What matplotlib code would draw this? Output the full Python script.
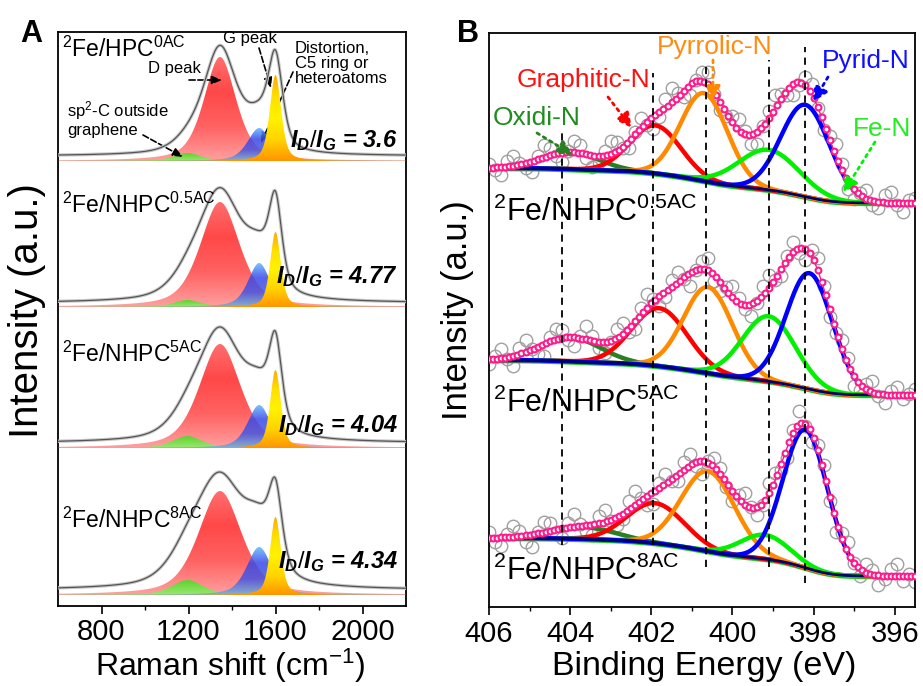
import numpy as np
import matplotlib
matplotlib.use("Agg")
import matplotlib.pyplot as plt
from matplotlib.colors import LinearSegmentedColormap

plt.rcParams['font.family'] = ['Liberation Sans', 'DejaVu Sans']
plt.rcParams['mathtext.fontset'] = 'custom'
plt.rcParams['mathtext.rm'] = 'Liberation Sans'
plt.rcParams['mathtext.it'] = 'Liberation Sans:italic:bold'
plt.rcParams['mathtext.bf'] = 'Liberation Sans:bold'

W, H = 923, 686

# ---------------- DATA: Raman (panel A) ----------------
raman_samples = ['0AC', '0.5AC', '5AC', '8AC']
raman_prefix = ['HPC', 'NHPC', 'NHPC', 'NHPC']
raman_ratio = ['3.6', '4.77', '4.04', '4.34']
# component order: sp2-C (green), D (red), distortion (blue), G (yellow)
raman_centers = [1195, 1345, 1525, 1600]
raman_fit_heights = [[8, 104, 33, 86], [7, 105, 44, 75], [12, 104, 43, 78], [15, 104, 48, 78]]
raman_fit_fwhm = [[150, 175, 125, 62], [150, 215, 120, 58], [160, 225, 125, 58], [170, 235, 135, 58]]
raman_raw_heights = [[10, 106, 30, 86], [14, 108, 36, 82], [16, 108, 38, 80], [22, 106, 45, 72]]
raman_raw_fwhm = [[160, 180, 140, 78], [200, 235, 150, 70], [200, 240, 150, 70], [220, 260, 160, 72]]
# vertical offsets of each spectrum (image rows of base line)
raman_fill_base = [161, 307, 448, 595]
raman_raw_base = [156, 303, 443, 590]

# ---------------- DATA: XPS N1s (panel B) ----------------
xps_samples = ['0.5AC', '5AC', '8AC']
xps_names = ['Oxidi-N', 'Graphitic-N', 'Pyrrolic-N', 'Fe-N', 'Pyrid-N']
xps_centers = [[404.0, 401.9, 400.7, 399.1, 398.2],
               [404.0, 401.8, 400.6, 399.1, 398.1],
               [403.7, 401.9, 400.6, 399.2, 398.2]]
xps_heights = [[17, 48, 88, 40, 92],
               [24, 58, 86, 65, 116],
               [12, 40, 80, 24, 138]]
xps_sigma = [[0.7, 0.62, 0.58, 0.75, 0.6],
             [0.75, 0.68, 0.6, 0.65, 0.57],
             [0.8, 0.7, 0.66, 0.6, 0.55]]
xps_bg_left = [168, 360, 538]   # image rows
xps_bg_right = [203, 395, 576]
xps_res = [
    [4, -3, -8, 6, 10, 2, -5, -11, 3, 12, 7, -2, -9, 1, 11, 8, -4, -12, -6, 5, 13, 9, -1, -7, 2, 10, -3, -13, -5, 8,
     14, 4, -6, -10, 1, 9, 12, -2, -8, -4, 6, 11, 3, -9, -12, 0, 7, 13, 5, -5, -11, -3, 8, 10, -1, -7, 4, 12, 6, -8,
     -10, 2, 9, -4, -6, 7, 11, -2, -9, 3, 5],
    [-5, 3, 9, -2, -10, 6, 12, 1, -7, -12, 4, 10, 8, -3, -9, 2, 13, 5, -6, -11, -1, 9, 11, -4, -8, 6, 14, 3, -10, -5,
     7, 10, -2, -13, 0, 8, 12, -6, -9, 3, 11, 5, -4, -12, -2, 9, 13, -1, -7, 4, 10, -5, -11, 6, 12, 2, -8, -3, 9, 7,
     -10, -6, 5, 11, -2, -9, 4, 8, -4, 1, 6],
    [6, -4, -9, 3, 11, 5, -7, -12, 1, 10, 8, -3, -10, 4, 13, 2, -6, -11, 7, 12, -1, -8, -5, 9, 14, 3, -9, -12, 5, 10,
     -2, -7, 8, 11, -4, -13, 2, 9, 6, -5, -10, 4, 12, 1, -8, -3, 10, 7, -6, -11, 3, 13, -2, -9, 5, 8, -4, -12, 6, 11,
     0, -7, 9, 4, -10, -3, 7, 12, -5, 2, -6]]
xps_dash_pos = [404.2, 401.95, 400.65, 399.1, 398.2]
xps_dash_top = [130, 73, 67, 60, 47]
xps_dash_bot = [545, 545, 567, 567, 583]
xps_sample_label_base = [221, 412, 580]

# ---------------- styles ----------------
xps_colors = ['#2A7F22', '#FF0000', '#FF8A00', '#00F000', '#0000FF']
xps_text_colors = ['#1E8C1E', '#FF1010', '#FF8C10', '#22EE22', '#1010FF']


def fp(px, py):
    return (px, H - py)


def pv(x, c, h, w, eta=0.5):
    u = (x - c) / w
    return h * ((1 - eta) * np.exp(-4 * np.log(2) * u * u) + eta / (1 + 4 * u * u))


def gauss(x, c, h, s):
    return h * np.exp(-(x - c) ** 2 / (2 * s * s))


def grad_fill(ax, x, y0, y1, stops, z, alpha=1.0):
    poly = ax.fill_between(x, y0, y1, facecolor='none', edgecolor='none')
    path = poly.get_paths()[0]
    cmap = LinearSegmentedColormap.from_list('g', stops)
    grad = np.linspace(0, 1, 256).reshape(-1, 1)
    im = ax.imshow(grad, extent=[x.min(), x.max(), y0.min(), y1.max()], origin='lower',
                   aspect='auto', cmap=cmap, zorder=z, alpha=alpha, interpolation='bicubic')
    im.set_clip_path(path, transform=ax.transData)


fig = plt.figure(figsize=(W / 100, H / 100), dpi=100)
axA = fig.add_axes([58 / W, 80 / H, 348 / W, 574 / H])
axB = fig.add_axes([489 / W, 79 / H, 426 / W, 574 / H])

# ---------------- Panel A ----------------
xr = np.linspace(600, 2200, 1601)
fill_stops = [['#9BE870', '#5ED22E'],
              ['#FFA0A0', '#FF6262', '#FF4848', '#FF6E6E'],
              ['#70B4D8', '#4455E2', '#3A48E6', '#62B8FF'],
              ['#FF9400', '#FFD400', '#FFF200', '#FFE000', '#FFAA00']]
fill_order = [1, 0, 2, 3]
fill_alpha = [1.0, 1.0, 0.85, 1.0]
for i in range(4):
    yb = H - raman_fill_base[i]
    comps = [pv(xr, raman_centers[k], raman_fit_heights[i][k], raman_fit_fwhm[i][k]) for k in range(4)]
    for z, k in enumerate(fill_order):
        grad_fill(axA, xr, np.full_like(xr, yb), yb + comps[k], fill_stops[k], 2 + z, fill_alpha[k])
    yg = H - raman_raw_base[i] + sum(pv(xr, raman_centers[k], raman_raw_heights[i][k], raman_raw_fwhm[i][k])
                                     for k in range(4))
    axA.plot(xr, yg, color='#c8c8c8', lw=2.4, zorder=7)
    axA.plot(xr, yg, color='#555555', lw=0.9, zorder=8)

axA.set_xlim(600, 2200)
axA.set_ylim(80, 654)
axA.set_yticks([])
axA.set_xticks([800, 1200, 1600, 2000])
axA.set_xticks([1000, 1400, 1800], minor=True)
axA.tick_params(axis='x', which='major', length=6, width=1.2, labelsize=21, pad=3, direction='out')
axA.tick_params(axis='x', which='minor', length=3, width=1.0, direction='out')
for s in axA.spines.values():
    s.set_linewidth(1.3)

sample_base_A = [57, 213, 362, 528]
ratio_base_A = [147, 283, 432, 568]
for i in range(4):
    fig.text(62 / W, (H - sample_base_A[i]) / H,
             r'$^{\mathrm{2}}$Fe/' + raman_prefix[i] + r'$^{\mathrm{' + raman_samples[i] + '}}$',
             fontsize=16.5, va='baseline', ha='left')
    fig.text(398 / W, (H - ratio_base_A[i]) / H, r'$\mathit{I_D/I_G}$ = ' + raman_ratio[i],
             fontsize=17, fontweight='bold', style='italic', va='baseline', ha='right')

annA = dict(arrowstyle='-|>,head_length=0.6,head_width=0.25', color='black', lw=1.2, linestyle='--',
            shrinkA=0, shrinkB=0)
fig.text(174 / W, (H - 68) / H, 'D peak', fontsize=12, ha='center', va='center')
axA.annotate('', xy=fp(222, 80), xytext=fp(189, 80), xycoords='figure pixels', textcoords='figure pixels',
             arrowprops=annA)
fig.text(250 / W, (H - 39) / H, 'G peak', fontsize=12, ha='center', va='center')
axA.annotate('', xy=fp(271, 88), xytext=fp(259, 48), xycoords='figure pixels', textcoords='figure pixels',
             arrowprops=annA)
fig.text(295 / W, (H - 41) / H, 'Distortion,\nC5 ring or\nheteroatoms', fontsize=12, ha='left', va='top',
         linespacing=1.0)
axA.annotate('', xy=fp(261, 143), xytext=fp(293, 72), xycoords='figure pixels', textcoords='figure pixels',
             arrowprops=annA)
fig.text(67 / W, (H - 99) / H, 'sp$^{\\mathrm{2}}$-C outside\ngraphene', fontsize=12, ha='left', va='top',
         linespacing=1.05)
axA.annotate('', xy=fp(183, 157), xytext=fp(143, 135), xycoords='figure pixels', textcoords='figure pixels',
             arrowprops=annA)

fig.text(27 / W, (H - 311) / H, 'Intensity (a.u.)', fontsize=29, rotation=90, ha='center', va='center')
fig.text(230 / W, (H - 676) / H, 'Raman shift (cm$^{\\mathrm{-1}}$)', fontsize=23, ha='center', va='baseline')
fig.text(20 / W, (H - 42) / H, 'A', fontsize=22, fontweight='bold', ha='left', va='baseline')

# ---------------- Panel B ----------------
xb = np.linspace(406, 395.5, 1051)
for i in range(3):
    peaks = [gauss(xb, xps_centers[i][k], xps_heights[i][k], xps_sigma[i][k]) for k in range(5)]
    total = sum(peaks)
    frac = np.cumsum(total[::-1])[::-1] / total.sum()
    yl, yr = H - xps_bg_left[i], H - xps_bg_right[i]
    bg = yr + (yl - yr) * frac
    env = bg + total
    idx = np.linspace(0, len(xb) - 1, len(xps_res[i])).astype(int)
    axB.plot(xb[idx], env[idx] + np.array(xps_res[i]), 'o', ms=9, mfc='none', mec='#a0a0a0', mew=1.0, zorder=2)
    axB.plot(xb, bg - 1.2, color='#22CC22', lw=3.0, zorder=3)
    for k in range(5):
        axB.plot(xb, bg + peaks[k], color=xps_colors[k], lw=3.2, zorder=3.2 + 0.1 * k, solid_capstyle='round')
    axB.plot(xb, bg, color='#000070', lw=2.0, zorder=3.8)
    axB.plot(xb, env, color='#FF1A8C', lw=1.0, marker='o', markevery=10, ms=4.2, mfc='white', mec='#FF1A8C',
             mew=1.5, zorder=5)
    fig.text(493 / W, (H - xps_sample_label_base[i]) / H,
             r'$^{\mathrm{2}}$Fe/NHPC$^{\mathrm{' + xps_samples[i] + '}}$', fontsize=22, va='baseline', ha='left')

for xpos, t, b in zip(xps_dash_pos, xps_dash_top, xps_dash_bot):
    axB.plot([xpos, xpos], [H - b, H - t], color='black', lw=1.3, dashes=(4, 3), zorder=6)

axB.set_xlim(406, 395.5)
axB.set_ylim(79, 653)
axB.set_yticks([])
axB.set_xticks([406, 404, 402, 400, 398, 396])
axB.set_xticks([405, 403, 401, 399, 397], minor=True)
axB.tick_params(axis='x', which='major', length=6, width=1.2, labelsize=21, pad=3, direction='out')
axB.tick_params(axis='x', which='minor', length=3, width=1.0, direction='out')
for s in axB.spines.values():
    s.set_linewidth(1.3)

# label positions / arrows in order: Oxidi, Graphitic, Pyrrolic, Fe-N, Pyrid
label_pos = [(537, 118), (583, 80), (715, 47), (882, 129), (866, 61)]
arrow_from = [(537, 133), (608, 97), (713, 60), (875, 142), (828, 77)]
arrow_to = [(573, 155), (632, 128), (713, 101), (843, 193), (813, 102)]
for k in range(5):
    fig.text(label_pos[k][0] / W, (H - label_pos[k][1]) / H, xps_names[k], fontsize=19,
             color=xps_text_colors[k], ha='center', va='center')
    axB.annotate('', xy=fp(*arrow_to[k]), xytext=fp(*arrow_from[k]), xycoords='figure pixels',
                 textcoords='figure pixels',
                 arrowprops=dict(arrowstyle='-|>,head_length=0.9,head_width=0.45', color=xps_colors[k], lw=2.0,
                                 linestyle=':', shrinkA=0, shrinkB=0), zorder=9)

fig.text(458 / W, (H - 310) / H, 'Intensity (a.u.)', fontsize=25, rotation=90, ha='center', va='center')
fig.text(704 / W, (H - 675) / H, 'Binding Energy (eV)', fontsize=24.5, ha='center', va='baseline')
fig.text(457 / W, (H - 42) / H, 'B', fontsize=22, fontweight='bold', ha='left', va='baseline')

fig.savefig('out.png', dpi=100)
